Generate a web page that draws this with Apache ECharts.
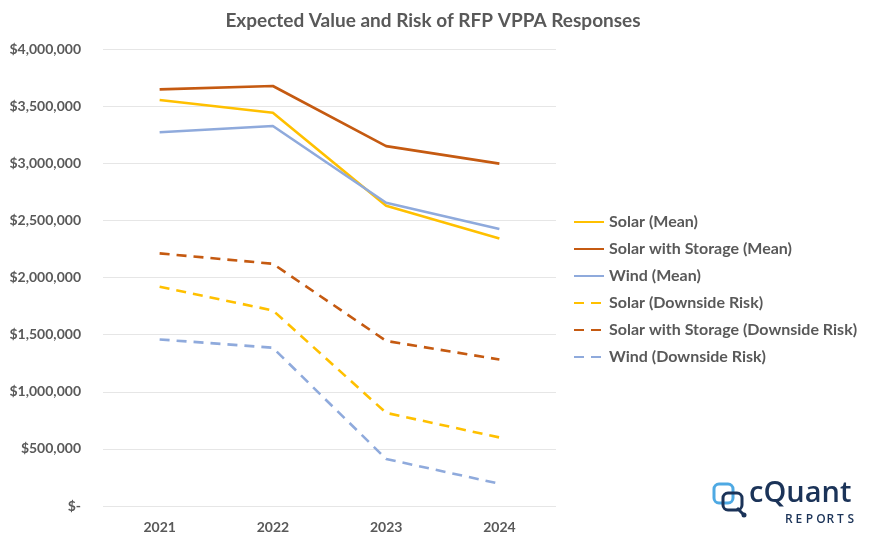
<!DOCTYPE html>
<html>
<head>
<meta charset="utf-8">
<script src="https://cdn.jsdelivr.net/npm/echarts@6/dist/echarts.min.js"></script>
<style>
html,body{margin:0;padding:0;background:#fff;}
#chart{width:870px;height:545px;}
</style>
</head>
<body>
<div id="chart"></div>
<script>
var years = ['2021', '2022', '2023', '2024'];
var solarMean = [3553000, 3442000, 2628000, 2342000];
var storageMean = [3647000, 3676000, 3150000, 2997000];
var windMean = [3271000, 3326000, 2654000, 2424000];
var solarRisk = [1919000, 1712000, 815000, 600000];
var storageRisk = [2211000, 2120000, 1445000, 1282000];
var windRisk = [1458000, 1385000, 412000, 195000];

var yTicks = [0, 500000, 1000000, 1500000, 2000000, 2500000, 3000000, 3500000, 4000000];

var grey = '#595959';
var font = 'Lato';

function money(v){
	if(v === 0) return '$-';
	return '$' + v.toString().replace(/\B(?=(\d{3})+(?!\d))/g, ',');
}

function makeLine(name, data, color, dashed){
	return {
		name: name,
		type: 'line',
		data: data,
		symbol: 'none',
		showSymbol: false,
		lineStyle: {
			color: color,
			width: 2.6,
			type: dashed ? [10, 7] : 'solid',
			cap: 'butt'
		},
		itemStyle: {color: color},
		emphasis: {disabled: true}
	};
}

var chart = echarts.init(document.getElementById('chart'));

// cQuant logo, drawn roughly
var reportsLetters = 'REPORTS'.split('');
var logo = [
	{type:'rect', shape:{x:714, y:484, width:19, height:19, r:5}, style:{fill:'none', stroke:'#4ea9e3', lineWidth:3}},
	{type:'rect', shape:{x:723, y:493, width:19, height:17, r:5}, style:{fill:'none', stroke:'#1b3358', lineWidth:3}},
	{type:'line', shape:{x1:737, y1:508, x2:743, y2:514}, style:{stroke:'#1b3358', lineWidth:3}},
	{type:'circle', shape:{cx:744, cy:515, r:2.5}, style:{fill:'#1b3358'}},
	{type:'text', left:749, top:479, style:{text:'cQuant', fill:'#1b3358', font:'600 29px "Open Sans"'}}
];
reportsLetters.forEach(function(ch, i){
	logo.push({type:'text', left:785 + i * 10.4, top:514, style:{text:ch, fill:'#1b3358', font:'600 12px "Open Sans"'}});
});

var option = {
	backgroundColor: '#fff',
	animation: false,
	title: {
		text: 'Expected Value and Risk of RFP VPPA Responses',
		left: 428,
		textAlign: 'center',
		top: 6,
		textStyle: {color: grey, fontFamily: font, fontWeight: 'bold', fontSize: 19}
	},
	grid: {left: 103, right: 314, top: 49, bottom: 39, containLabel: false},
	legend: {
		orient: 'vertical',
		left: 568,
		top: 209,
		itemWidth: 30,
		itemHeight: 14,
		itemGap: 11,
		itemStyle: {opacity: 0},
		textStyle: {color: grey, fontFamily: font, fontWeight: 'bold', fontSize: 16},
		data: ['Solar (Mean)', 'Solar with Storage (Mean)', 'Wind (Mean)',
			'Solar (Downside Risk)', 'Solar with Storage (Downside Risk)', 'Wind (Downside Risk)']
	},
	xAxis: {
		type: 'category',
		data: years,
		boundaryGap: true,
		axisLine: {show: false},
		axisTick: {show: false},
		axisLabel: {color: grey, fontFamily: font, fontWeight: 'bold', fontSize: 14, margin: 14}
	},
	yAxis: {
		type: 'value',
		min: yTicks[0],
		max: yTicks[yTicks.length - 1],
		interval: 500000,
		axisLine: {show: false},
		axisTick: {show: false},
		splitLine: {lineStyle: {color: '#e6e6e6', width: 1}},
		axisLabel: {color: grey, fontFamily: font, fontWeight: 'bold', fontSize: 14, margin: 22, formatter: money}
	},
	series: [
		makeLine('Solar (Mean)', solarMean, '#ffc000', false),
		makeLine('Solar with Storage (Mean)', storageMean, '#c55a11', false),
		makeLine('Wind (Mean)', windMean, '#8faadc', false),
		makeLine('Solar (Downside Risk)', solarRisk, '#ffc000', true),
		makeLine('Solar with Storage (Downside Risk)', storageRisk, '#c55a11', true),
		makeLine('Wind (Downside Risk)', windRisk, '#8faadc', true)
	],
	graphic: logo
};

chart.setOption(option);
</script>
</body>
</html>
